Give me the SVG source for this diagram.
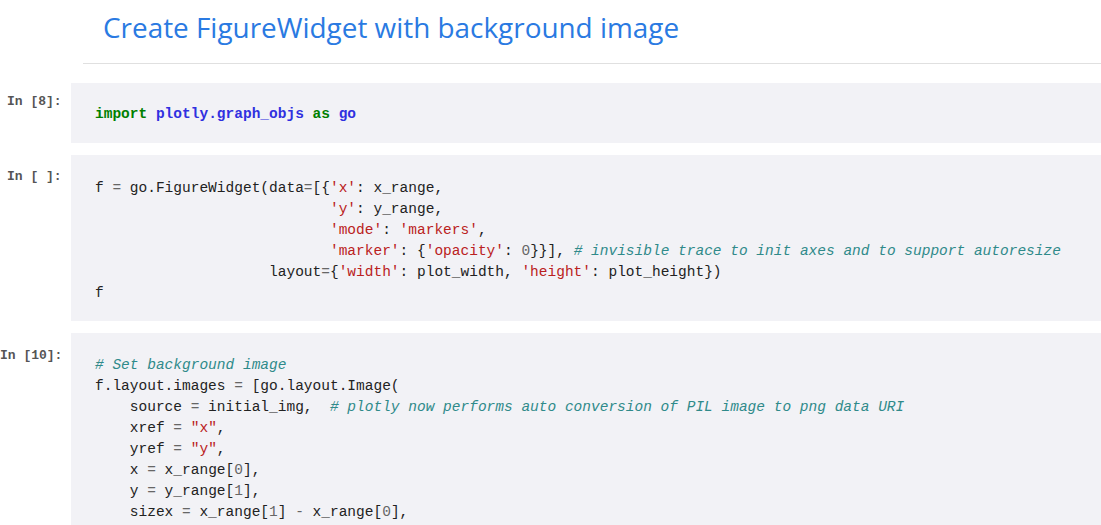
<svg xmlns="http://www.w3.org/2000/svg" width="1101" height="525" viewBox="0 0 1101 525">
<style>
.cell{fill:#f2f2f6}
.p{font-family:"Liberation Mono",monospace;font-size:13px;font-weight:bold;fill:#555}
.c{font-family:"Liberation Mono",monospace;font-size:14.5px;fill:#222;white-space:pre}
.k{fill:#008000;font-weight:bold}
.m{fill:#3030e0;font-weight:bold}
.s{fill:#ba2121}
.n{fill:#666}
.o{fill:#666}
.cm{fill:#2f8a8a;font-style:italic}
</style>
<rect width="1101" height="525" fill="#fff"/>
<g id="title"><text x="103" y="38" font-family="'Open Sans','Liberation Sans',sans-serif" font-size="27.9" fill="#2a7ae2">Create FigureWidget with background image</text>
<line x1="83" y1="63.5" x2="1101" y2="63.5" stroke="#e0e0e0"/></g>
<g id="cell1"><rect class="cell" x="71" y="83" width="1030" height="60"/>
<text class="p" x="7" y="105">In [8]:</text>
<text class="c" x="95" y="118"><tspan class="k">import</tspan> <tspan class="m">plotly.graph_objs</tspan> <tspan class="k">as</tspan> <tspan class="m">go</tspan></text></g>
<g id="cell2"><rect class="cell" x="71" y="155" width="1030" height="166"/>
<text class="p" x="7" y="180">In [ ]:</text>
<text class="c" x="95" y="192">f <tspan class="o">=</tspan> go.FigureWidget(data<tspan class="o">=</tspan>[{<tspan class="s">'x'</tspan>: x_range,</text>
<text class="c" x="95" y="213">                           <tspan class="s">'y'</tspan>: y_range,</text>
<text class="c" x="95" y="234">                           <tspan class="s">'mode'</tspan>: <tspan class="s">'markers'</tspan>,</text>
<text class="c" x="95" y="255">                           <tspan class="s">'marker'</tspan>: {<tspan class="s">'opacity'</tspan>: <tspan class="n">0</tspan>}}], <tspan class="cm"># invisible trace to init axes and to support autoresize</tspan></text>
<text class="c" x="95" y="276">                    layout<tspan class="o">=</tspan>{<tspan class="s">'width'</tspan>: plot_width, <tspan class="s">'height'</tspan>: plot_height})</text>
<text class="c" x="95" y="297">f</text></g>
<g id="cell3"><rect class="cell" x="71" y="333" width="1030" height="192"/>
<text class="p" x="0" y="359">In [10]:</text>
<text class="c" x="95" y="369"><tspan class="cm"># Set background image</tspan></text>
<text class="c" x="95" y="390">f.layout.images <tspan class="o">=</tspan> [go.layout.Image(</text>
<text class="c" x="95" y="411">    source <tspan class="o">=</tspan> initial_img,  <tspan class="cm"># plotly now performs auto conversion of PIL image to png data URI</tspan></text>
<text class="c" x="95" y="432">    xref <tspan class="o">=</tspan> <tspan class="s">"x"</tspan>,</text>
<text class="c" x="95" y="453">    yref <tspan class="o">=</tspan> <tspan class="s">"y"</tspan>,</text>
<text class="c" x="95" y="474">    x <tspan class="o">=</tspan> x_range[<tspan class="n">0</tspan>],</text>
<text class="c" x="95" y="495">    y <tspan class="o">=</tspan> y_range[<tspan class="n">1</tspan>],</text>
<text class="c" x="95" y="516">    sizex <tspan class="o">=</tspan> x_range[<tspan class="n">1</tspan>] <tspan class="o">-</tspan> x_range[<tspan class="n">0</tspan>],</text></g>
<g id="connectors"/>
</svg>
